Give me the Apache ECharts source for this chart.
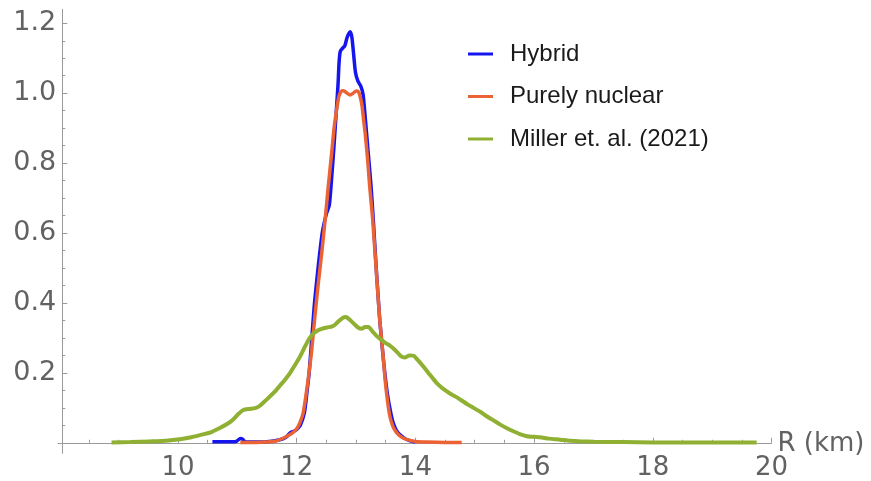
<!DOCTYPE html>
<html>
<head>
<meta charset="utf-8">
<script src="https://cdn.jsdelivr.net/npm/echarts@6/dist/echarts.min.js"></script>
<style>
  html, body { margin: 0; padding: 0; background: #ffffff; }
  #chart { width: 871px; height: 481px; }
</style>
</head>
<body>
<div id="chart"></div>
<script>
// Radius grids (km) and probability densities for each model
const rHybrid = [10.58, 10.8, 10.98, 11.05, 11.09, 11.13, 11.3, 11.5, 11.7, 11.82, 11.9, 11.95, 12.0, 12.06, 12.13, 12.17, 12.21, 12.255, 12.3, 12.36, 12.43, 12.5, 12.55, 12.59, 12.625, 12.66, 12.695, 12.715, 12.735, 12.78, 12.81, 12.85, 12.9, 12.93, 12.96, 12.99, 13.03, 13.08, 13.12, 13.16, 13.2, 13.25, 13.29, 13.34, 13.4, 13.46, 13.52, 13.58, 13.63, 13.7, 13.8, 13.9, 14.0];
const pHybrid = [0.003, 0.003, 0.004, 0.012, 0.01, 0.003, 0.002, 0.003, 0.008, 0.016, 0.03, 0.033, 0.038, 0.05, 0.086, 0.14, 0.2, 0.3, 0.4, 0.5, 0.6, 0.655, 0.68, 0.76, 0.84, 0.93, 1.02, 1.09, 1.12, 1.13, 1.135, 1.16, 1.176, 1.16, 1.11, 1.06, 1.035, 1.02, 0.995, 0.92, 0.84, 0.74, 0.64, 0.5, 0.35, 0.24, 0.15, 0.09, 0.055, 0.03, 0.015, 0.006, 0.002];

const rNuclear = [11.05, 11.3, 11.5, 11.65, 11.77, 11.85, 11.94, 12.0, 12.06, 12.11, 12.16, 12.2, 12.25, 12.3, 12.36, 12.42, 12.48, 12.53, 12.59, 12.63, 12.67, 12.71, 12.75, 12.79, 12.85, 12.9, 12.95, 13.0, 13.04, 13.07, 13.1, 13.13, 13.16, 13.2, 13.23, 13.28, 13.32, 13.36, 13.4, 13.45, 13.49, 13.53, 13.57, 13.62, 13.68, 13.76, 13.85, 14.0, 14.2, 14.5, 14.78];
const pNuclear = [0.001, 0.001, 0.002, 0.005, 0.013, 0.02, 0.03, 0.04, 0.06, 0.086, 0.14, 0.19, 0.26, 0.35, 0.45, 0.54, 0.64, 0.73, 0.83, 0.9, 0.95, 0.99, 1.005, 1.007, 1.0, 0.995, 1.0, 1.006, 1.004, 0.99, 0.965, 0.92, 0.876, 0.8, 0.733, 0.64, 0.543, 0.445, 0.35, 0.26, 0.18, 0.12, 0.076, 0.047, 0.03, 0.017, 0.01, 0.004, 0.002, 0.001, 0.001];

const rMiller = [8.88, 9.2, 9.53, 9.8, 10.03, 10.2, 10.37, 10.55, 10.71, 10.82, 10.93, 11.02, 11.1, 11.2, 11.3, 11.38, 11.47, 11.55, 11.64, 11.72, 11.8, 11.89, 11.97, 12.06, 12.13, 12.2, 12.27, 12.34, 12.42, 12.51, 12.6, 12.66, 12.72, 12.78, 12.82, 12.86, 12.92, 12.98, 13.04, 13.09, 13.15, 13.21, 13.28, 13.35, 13.42, 13.5, 13.57, 13.63, 13.7, 13.76, 13.82, 13.9, 13.97, 14.05, 14.13, 14.22, 14.3, 14.36, 14.45, 14.53, 14.61, 14.7, 14.78, 14.88, 14.98, 15.1, 15.2, 15.32, 15.43, 15.55, 15.65, 15.76, 15.88, 16.0, 16.1, 16.25, 16.44, 16.6, 16.8, 17.0, 17.5, 18.0, 18.5, 19.0, 19.75];
const pMiller = [0.001, 0.002, 0.004, 0.006, 0.01, 0.015, 0.022, 0.03, 0.043, 0.053, 0.067, 0.083, 0.094, 0.097, 0.099, 0.106, 0.12, 0.133, 0.148, 0.164, 0.18, 0.2, 0.222, 0.248, 0.272, 0.295, 0.311, 0.32, 0.326, 0.33, 0.333, 0.34, 0.35, 0.358, 0.36, 0.357, 0.348, 0.338, 0.329, 0.326, 0.331, 0.331, 0.318, 0.305, 0.295, 0.285, 0.278, 0.27, 0.258, 0.247, 0.244, 0.25, 0.249, 0.235, 0.219, 0.2, 0.183, 0.171, 0.157, 0.147, 0.138, 0.13, 0.121, 0.11, 0.1, 0.088, 0.076, 0.064, 0.052, 0.041, 0.033, 0.025, 0.019, 0.017, 0.016, 0.012, 0.009, 0.006, 0.004, 0.003, 0.002, 0.001, 0.001, 0.001, 0.001];

// Axis ticks and labels
const xMajorTicks = [10, 12, 14, 16, 18, 20];
const xMinorTicks = [8.5, 9, 9.5, 10.5, 11, 11.5, 12.5, 13, 13.5, 14.5, 15, 15.5, 16.5, 17, 17.5, 18.5, 19, 19.5];
const yMajorTicks = [0.2, 0.4, 0.6, 0.8, 1.0, 1.2];
const yMinorTicks = [0.05, 0.1, 0.15, 0.25, 0.3, 0.35, 0.45, 0.5, 0.55, 0.65, 0.7, 0.75, 0.85, 0.9, 0.95, 1.05, 1.1, 1.15];
const xAxisTitle = 'R (km)';

const zip = (xs, ys) => xs.map((x, i) => [x, ys[i]]);

const X_MIN = 7.98, X_MAX = 20, Y_MIN = -0.03, Y_MAX = 1.24;
const axisGray = '#9a9a9a';
const labelGray = '#626262';

const chart = echarts.init(document.getElementById('chart'), null, { renderer: 'canvas' });

chart.setOption({
  animation: false,
  backgroundColor: '#ffffff',
  grid: {
    left: 58.1, right: 99.5, top: 9.3, bottom: 27.7,
    containLabel: false, outerBoundsMode: 'none'
  },
  legend: {
    orient: 'vertical',
    left: 468,
    top: 42,
    padding: 0,
    itemGap: 18.5,
    itemWidth: 25,
    itemHeight: 3,
    icon: 'rect',
    textStyle: {
      fontFamily: 'Liberation Sans, Arial, sans-serif',
      fontSize: 24,
      lineHeight: 24,
      color: '#1a1a1a',
      padding: [0, 0, 0, 12]
    },
    data: ['Hybrid', 'Purely nuclear', 'Miller et. al. (2021)']
  },
  xAxis: [
    {
      type: 'value', min: X_MIN, max: X_MAX, position: 'bottom',
      axisLine: { onZero: true, lineStyle: { color: axisGray, width: 1 } },
      axisTick: { inside: true, length: 5, customValues: xMajorTicks, lineStyle: { color: axisGray } },
      axisLabel: { customValues: xMajorTicks, margin: 2, fontFamily: 'DejaVu Sans', fontSize: 26, color: labelGray },
      splitLine: { show: false }
    },
    {
      type: 'value', min: X_MIN, max: X_MAX, position: 'bottom',
      axisLine: { show: false, onZero: true },
      axisTick: { inside: true, length: 3, customValues: xMinorTicks, lineStyle: { color: axisGray } },
      axisLabel: { show: false },
      splitLine: { show: false }
    }
  ],
  yAxis: [
    {
      type: 'value', min: Y_MIN, max: Y_MAX, position: 'left', offset: -4.2,
      axisLine: { show: true, onZero: false, lineStyle: { color: axisGray, width: 1 } },
      axisTick: { inside: true, length: 5, customValues: yMajorTicks, lineStyle: { color: axisGray } },
      axisLabel: {
        customValues: yMajorTicks, margin: 6, fontFamily: 'DejaVu Sans', fontSize: 27, color: labelGray,
        formatter: v => v.toFixed(1)
      },
      splitLine: { show: false }
    },
    {
      type: 'value', min: Y_MIN, max: Y_MAX, position: 'left', offset: -4.2,
      axisLine: { show: false, onZero: false },
      axisTick: { inside: true, length: 3, customValues: yMinorTicks, lineStyle: { color: axisGray } },
      axisLabel: { show: false },
      splitLine: { show: false }
    }
  ],
  series: [
    {
      name: 'Hybrid', type: 'line', xAxisIndex: 0, yAxisIndex: 0,
      data: zip(rHybrid, pHybrid), showSymbol: false, smooth: 0.2,
      color: '#1515f0', lineStyle: { width: 3.5, color: '#1515f0' }
    },
    {
      name: 'Purely nuclear', type: 'line', xAxisIndex: 0, yAxisIndex: 0,
      data: zip(rNuclear, pNuclear), showSymbol: false, smooth: 0.2,
      color: '#eb6235', lineStyle: { width: 3.5, color: '#eb6235' }
    },
    {
      name: 'Miller et. al. (2021)', type: 'line', xAxisIndex: 0, yAxisIndex: 0,
      data: zip(rMiller, pMiller), showSymbol: false, smooth: 0.2,
      color: '#8fb032', lineStyle: { width: 4, color: '#8fb032' }
    }
  ]
});

// Axis title sits just past the end of the horizontal axis, centred on the axis line
const axisEnd = chart.convertToPixel({ xAxisIndex: 0, yAxisIndex: 0 }, [X_MAX, 0]);
chart.setOption({
  graphic: [{
    type: 'text',
    x: axisEnd[0] + 6,
    y: axisEnd[1] + 1,
    style: {
      text: xAxisTitle,
      fontFamily: 'DejaVu Sans',
      fontSize: 26,
      fill: labelGray,
      align: 'left',
      verticalAlign: 'middle'
    }
  }]
});
</script>
</body>
</html>
